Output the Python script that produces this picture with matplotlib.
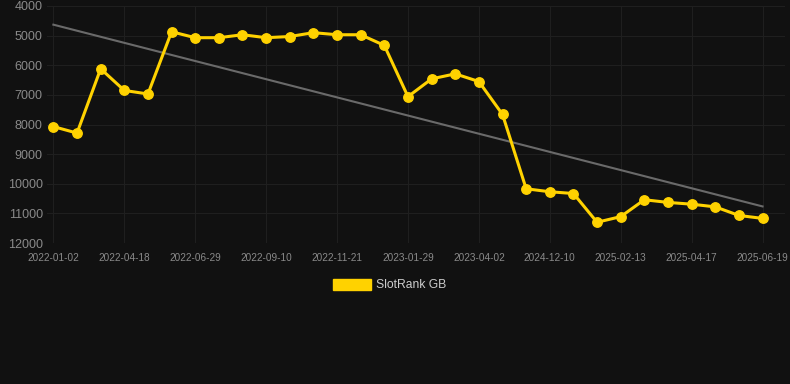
import numpy as np
import matplotlib
matplotlib.use("Agg")
import matplotlib.pyplot as plt
from matplotlib.patches import Patch

plt.rcParams['font.family'] = ['Liberation Sans', 'DejaVu Sans']

# dates shown on the x axis (every third point is labelled)
dates = ["2022-01-02", "", "", "2022-04-18", "", "", "2022-06-29", "", "",
         "2022-09-10", "", "", "2022-11-21", "", "", "2023-01-29", "", "",
         "2023-04-02", "", "", "2024-12-10", "", "", "2025-02-13", "", "",
         "2025-04-17", "", "", "2025-06-19"]

# rank values
ranks = [8070, 8290, 6120, 6850, 6970, 4870, 5070, 5070, 4970, 5070, 5030,
         4900, 4970, 4970, 5330, 7060, 6460, 6290, 6550, 7660, 10170, 10270,
         10330, 11300, 11110, 10540, 10630, 10690, 10780, 11070, 11170]

y_ticks = [4000, 5000, 6000, 7000, 8000, 9000, 10000, 11000, 12000]

bg = "#111111"
gold = "#FFD200"


def main():
    fig = plt.figure(figsize=(7.9, 3.84), dpi=100, facecolor=bg)
    ax = fig.add_axes([47 / 790, 1 - 243 / 384, (785 - 47) / 790, (243 - 6) / 384])
    ax.set_facecolor(bg)

    x = np.arange(len(ranks))
    y = np.array(ranks)

    # trend line
    k, b = np.polyfit(x, y, 1)
    ax.plot(x, k * x + b, color="#6a6a6a", lw=1.5, zorder=2)

    ax.plot(x, y, color=gold, lw=2.2, marker="o", markersize=6.8, zorder=3)

    ax.set_ylim(12000, 4000)
    ax.set_yticks(y_ticks)
    ax.set_yticklabels([str(v) for v in y_ticks])
    ax.set_xlim(-0.27, 30.95)
    lab_idx = [i for i, d in enumerate(dates) if d]
    ax.set_xticks(lab_idx)
    ax.set_xticklabels([dates[i] for i in lab_idx])

    ax.grid(True, color="#1f1f1f", lw=0.8)
    for s in ax.spines.values():
        s.set_visible(False)
    ax.tick_params(axis="y", colors="#8a8a8a", labelsize=9, length=0, pad=3)
    ax.tick_params(axis="x", colors="#8a8a8a", labelsize=7.2, length=0, pad=7)

    handle = Patch(facecolor=gold, edgecolor=gold)
    leg = fig.legend([handle], ["SlotRank GB"], loc="center",
                     bbox_to_anchor=(0.5 - 5 / 790, 1 - 285 / 384), frameon=False,
                     fontsize=8.7, handlelength=3.1, handleheight=1.1,
                     handletextpad=0.45)
    for t in leg.get_texts():
        t.set_color("#cccccc")

    fig.savefig("out.png", dpi=100, facecolor=bg)


if __name__ == "__main__":
    main()
